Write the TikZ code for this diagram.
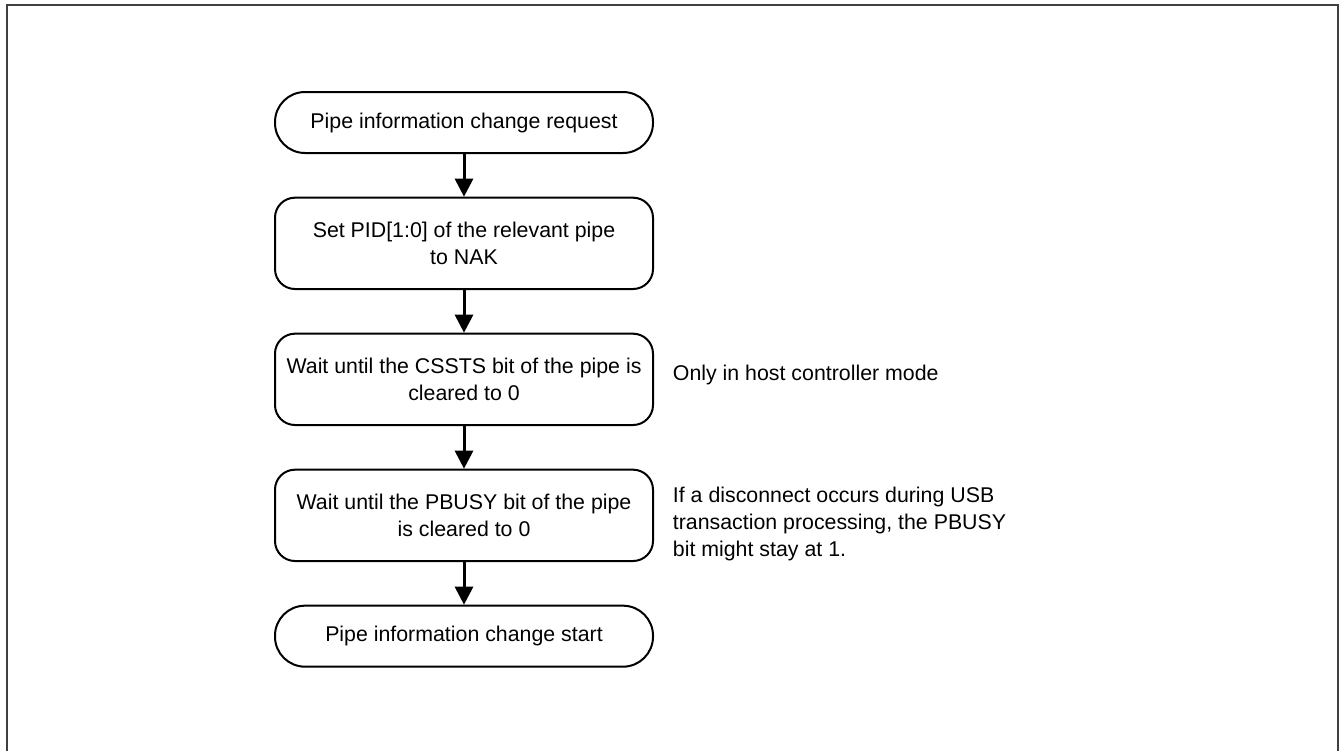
\documentclass[tikz,border=0pt]{standalone}
\usepackage{fontspec}
\setmainfont{Liberation Sans}
\usetikzlibrary{arrows.meta,positioning}
\definecolor{FrameGray}{RGB}{64,64,64}
\tikzset{
  terminal/.style={draw=black, line width=1.5pt, rounded corners=22.5pt,
    minimum width=283.5pt, minimum height=45.75pt, align=center,
    font=\fontsize{16}{20.25}\selectfont},
  process/.style={draw=black, line width=1.5pt, rounded corners=15pt,
    minimum width=283.5pt, minimum height=68.5pt, align=center,
    font=\fontsize{16}{20.25}\selectfont},
  note/.style={inner sep=0pt, align=left,
    font=\fontsize{16}{20.25}\selectfont},
  frame/.style={draw=FrameGray, line width=1.5pt},
  arrow/.style={-{Triangle[length=13.5pt, width=13.5pt]}, line width=2.25pt}
}
\begin{document}
\begin{tikzpicture}[x=0.75pt, y=-0.75pt, node distance=32pt]
  \useasboundingbox (0,0) rectangle (1341,751);
  \draw[frame] (6.5,751) |- (1337.5,5) -- (1337.5,751);

  \node[terminal] (request) at (464,122.5) {Pipe information change request};
  \node[process, below=of request] (setpid) {Set PID[1:0] of the relevant pipe\\to NAK};
  \node[process, below=of setpid] (csssts) {Wait until the CSSTS bit of the pipe is\\cleared to 0};
  \node[process, below=of csssts] (pbusy) {Wait until the PBUSY bit of the pipe\\is cleared to 0};
  \node[terminal, below=of pbusy] (start) {Pipe information change start};

  \node[note, right=14pt of csssts, yshift=3pt] (hostnote) {Only in host controller mode};
  \node[note, right=14pt of pbusy, yshift=-6.5pt] (busynote) {If a disconnect occurs during USB\\
    transaction processing, the PBUSY\\bit might stay at 1.};

  \draw[arrow] (request) -- (setpid);
  \draw[arrow] (setpid) -- (csssts);
  \draw[arrow] (csssts) -- (pbusy);
  \draw[arrow] (pbusy) -- (start);
\end{tikzpicture}
\end{document}
